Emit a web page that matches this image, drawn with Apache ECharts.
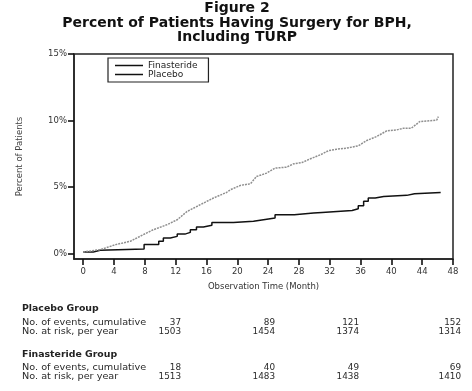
<!DOCTYPE html>
<html><head><meta charset="utf-8">
<script src="https://cdn.jsdelivr.net/npm/echarts@6/dist/echarts.min.js"></script>
<style>html,body{margin:0;padding:0;background:#fff}#c{width:472px;height:391px}</style>
</head><body><div id="c"></div>
<script>
const titleLines = ['Figure 2', 'Percent of Patients Having Surgery for BPH,', 'Including TURP'];
const xTicks = [0, 4, 8, 12, 16, 20, 24, 28, 32, 36, 40, 44, 48];
const yTicks = [0, 5, 10, 15];
const placeboMonths = [0, 2.2, 4.2, 6.1, 7.8, 9.1, 10.9, 12.2, 13.5, 15.2, 16.9, 18.6, 19.1, 20.4, 21.7, 22.5, 23.8, 24.9, 26.4, 27.3, 28.4, 29.7, 30.8, 31.8, 32.9, 34.2, 35.7, 36.8, 38.1, 39.4, 40.7, 41.6, 42.6, 43.7, 45.4, 45.9, 46.1];
const placeboPct = [0.13, 0.3, 0.68, 0.93, 1.43, 1.8, 2.18, 2.55, 3.18, 3.68, 4.18, 4.6, 4.8, 5.13, 5.25, 5.8, 6.05, 6.43, 6.5, 6.75, 6.85, 7.18, 7.43, 7.73, 7.85, 7.93, 8.1, 8.5, 8.8, 9.23, 9.3, 9.43, 9.43, 9.93, 10.0, 10.05, 10.3];
const finMonths = [0, 1.3, 2.2, 7.9, 9.8, 10.4, 11.3, 12.2, 13.2, 13.9, 14.7, 15.6, 16.7, 19.5, 22.1, 23.4, 24.9, 27.4, 29.9, 31.0, 34.9, 35.7, 36.4, 37.0, 37.9, 39.0, 42.0, 43.0, 46.4];
const finPct = [0.13, 0.25, 0.35, 0.68, 0.93, 1.18, 1.3, 1.47, 1.6, 1.8, 2.0, 2.13, 2.35, 2.43, 2.55, 2.68, 2.93, 3.05, 3.1, 3.25, 3.38, 3.6, 3.93, 4.18, 4.3, 4.38, 4.5, 4.6, 4.6];
const tableRowLabels = ['No. of events, cumulative', 'No. at risk, per year'];
const groupNames = ['Placebo Group', 'Finasteride Group'];
const placeboEvents = ['37', '89', '121', '152'];
const placeboAtRisk = ['1503', '1454', '1374', '1314'];
const finEvents = ['18', '40', '49', '69'];
const finAtRisk = ['1513', '1483', '1438', '1410'];

const FONT = '"DejaVu Sans", Verdana, sans-serif';
const chart = echarts.init(document.getElementById('c'));
const pair = (xs, ys) => xs.map((x, i) => [x, ys[i]]);

const graphics = [];
const titleY = [8, 23, 37.5];
titleLines.forEach((t, i) => {
  graphics.push({type: 'text', x: 237, y: titleY[i],
    style: {text: t, font: 'bold 14px ' + FONT, fill: '#111', textAlign: 'center', textVerticalAlign: 'middle'}});
});
const colX = [181, 275, 359, 461];
const groups = [[placeboEvents, placeboAtRisk], [finEvents, finAtRisk]];
groups.forEach((g, gi) => {
  const y0 = 309 + gi * 45.5;
  graphics.push({type: 'text', x: 22, y: y0, scaleX: 1.1,
    style: {text: groupNames[gi], font: 'bold 8.5px ' + FONT, fill: '#222', textVerticalAlign: 'middle'}});
  g.forEach((row, ri) => {
    const y = y0 + 13.5 + ri * 9;
    graphics.push({type: 'text', x: 22, y: y, scaleX: 1.14,
      style: {text: tableRowLabels[ri], font: '8.5px ' + FONT, fill: '#2a2a2a', textVerticalAlign: 'middle'}});
    row.forEach((v, ci) => {
      graphics.push({type: 'text', x: colX[ci], y: y, scaleX: 1.04,
        style: {text: v, font: '8.5px ' + FONT, fill: '#2a2a2a', textAlign: 'right', textVerticalAlign: 'middle'}});
    });
  });
});

chart.setOption({
  animation: false,
  grid: {left: 74, right: 19, top: 54, bottom: 132, show: true, borderColor: '#222', borderWidth: 1.5},
  legend: {
    orient: 'vertical', left: 108, top: 58,
    padding: [3, 11, 3, 7], itemGap: 0, itemWidth: 28, itemHeight: 1.5,
    borderColor: '#222', borderWidth: 1.2,
    textStyle: {fontSize: 9, fontFamily: FONT, color: '#222'},
    data: [
      {name: 'Finasteride', icon: 'rect', itemStyle: {color: '#111'}},
      {name: 'Placebo', icon: 'rect', itemStyle: {color: '#111'}}
    ]
  },
  xAxis: {
    type: 'value', min: -1.2, max: 48,
    name: 'Observation Time (Month)', nameLocation: 'middle', nameGap: 23,
    nameTextStyle: {fontSize: 8.5, fontFamily: FONT, color: '#333'},
    axisLine: {onZero: false, lineStyle: {color: '#222', width: 1.5}},
    axisTick: {show: true, length: 6, customValues: xTicks, lineStyle: {color: '#111', width: 1.6}},
    axisLabel: {customValues: xTicks, fontSize: 8.5, fontFamily: FONT, color: '#333', margin: 8},
    splitLine: {show: false}
  },
  yAxis: {
    type: 'value', min: -0.4, max: 15,
    name: 'Percent of Patients', nameLocation: 'middle', nameGap: 50, nameRotate: 90,
    nameTextStyle: {fontSize: 8.5, fontFamily: FONT, color: '#444'},
    axisLine: {show: true, onZero: false, lineStyle: {color: '#222', width: 1.5}},
    axisTick: {show: true, length: 6, customValues: yTicks, lineStyle: {color: '#111', width: 1.6}},
    axisLabel: {customValues: yTicks, formatter: v => v + '%', fontSize: 8.5, fontFamily: FONT, color: '#333', margin: 7},
    splitLine: {show: false}
  },
  series: [
    {name: 'Finasteride', type: 'line', step: 'end', showSymbol: false, symbol: 'none',
     data: pair(finMonths, finPct), lineStyle: {color: '#111', width: 1.5}},
    {name: 'Placebo', type: 'line', showSymbol: false, symbol: 'none',
     data: pair(placeboMonths, placeboPct), lineStyle: {color: '#8f8f8f', width: 1.5, type: [2, 1]}}
  ],
  graphic: graphics
});
</script></body></html>
